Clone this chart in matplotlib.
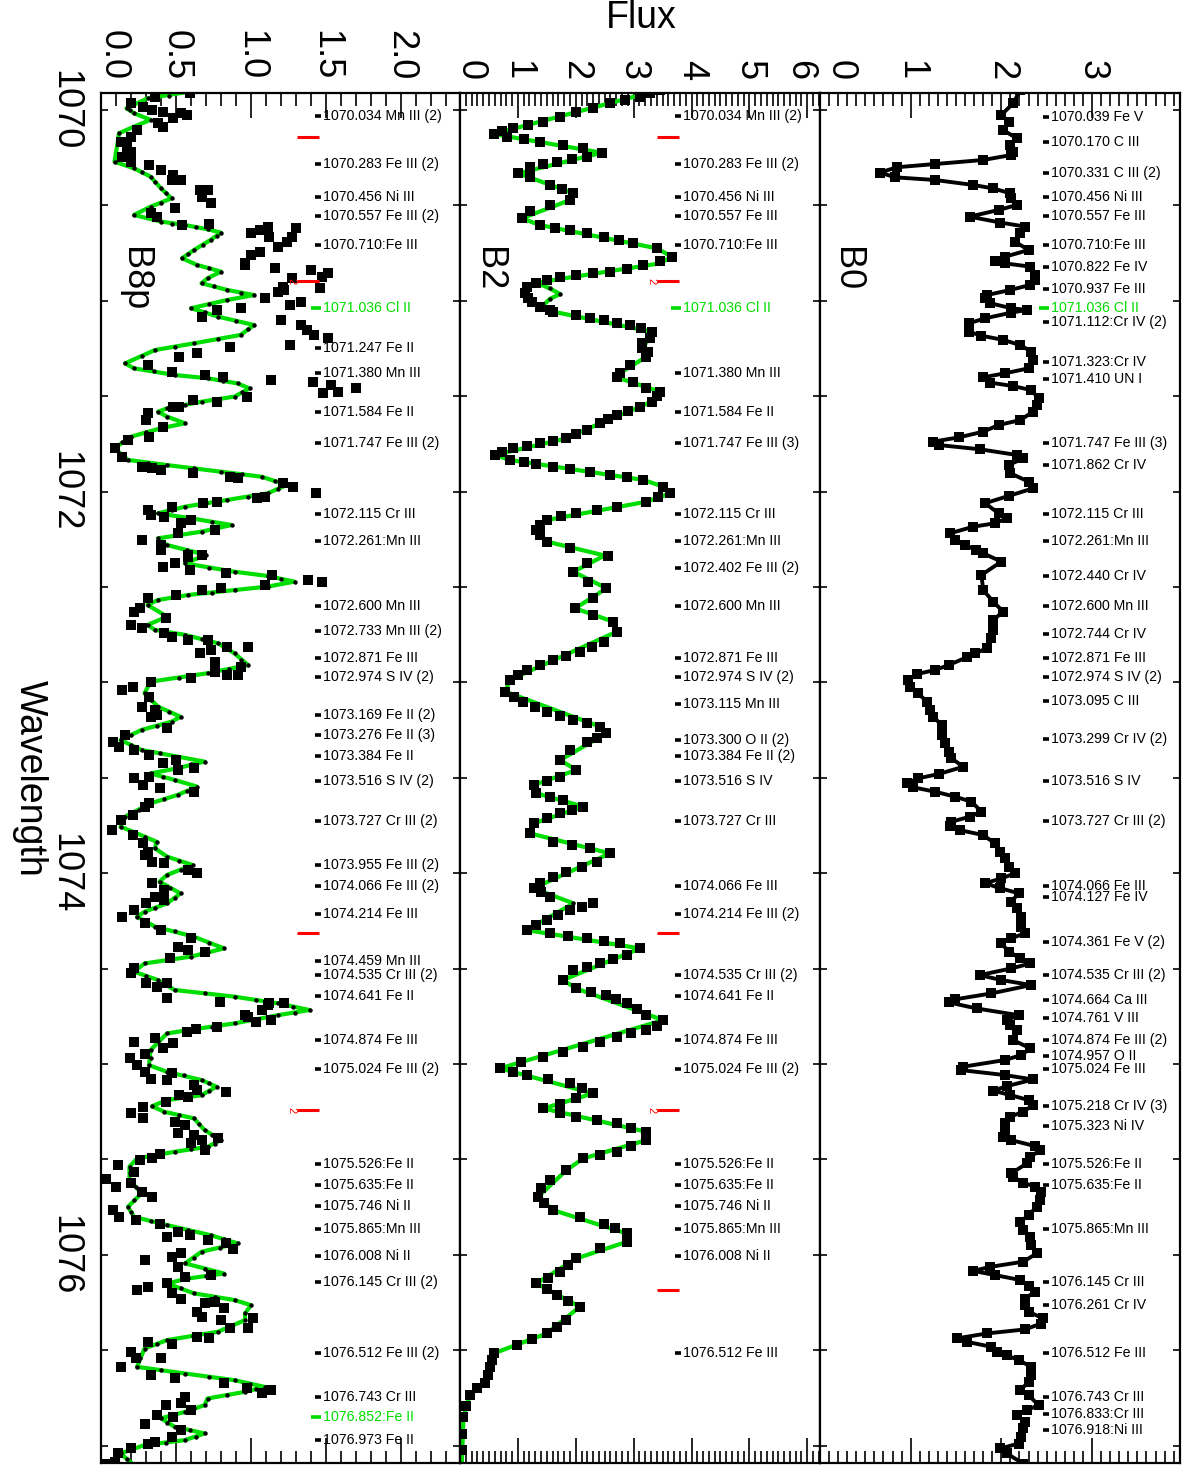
import numpy as np
import matplotlib
matplotlib.use('Agg')
import matplotlib.pyplot as plt
from matplotlib.transforms import blended_transform_factory as btf, ScaledTranslation
from matplotlib.ticker import MultipleLocator

plt.rcParams['font.family'] = ['Liberation Sans', 'DejaVu Sans']

# ---------------- B8p : model (green line with dots) ----------------
b8_model_wl = [1069.904, 1069.939, 1069.991, 1070.017, 1070.052, 1070.087, 1070.122, 1070.175, 1070.271, 1070.306,
               1070.349, 1070.411, 1070.463, 1070.507, 1070.550, 1070.585, 1070.603, 1070.625, 1070.643, 1070.681,
               1070.734, 1070.777, 1070.812, 1070.847, 1070.882, 1070.908, 1070.943, 1070.970, 1070.996, 1071.039,
               1071.083, 1071.127, 1071.179, 1071.223, 1071.258, 1071.328, 1071.354, 1071.389, 1071.406, 1071.433,
               1071.459, 1071.502, 1071.529, 1071.564, 1071.581, 1071.607, 1071.642, 1071.668, 1071.712, 1071.773,
               1071.834, 1071.861, 1071.896, 1071.922, 1071.965, 1072.009, 1072.044, 1072.079, 1072.114, 1072.140,
               1072.175, 1072.210, 1072.245, 1072.280, 1072.332, 1072.376, 1072.420, 1072.442, 1072.472, 1072.498,
               1072.516, 1072.542, 1072.568, 1072.594, 1072.655, 1072.699, 1072.725, 1072.751, 1072.795, 1072.848,
               1072.909, 1072.952, 1072.996, 1073.057, 1073.127, 1073.180, 1073.206, 1073.249, 1073.302, 1073.354,
               1073.389, 1073.415, 1073.450, 1073.477, 1073.511, 1073.546, 1073.590, 1073.634, 1073.704, 1073.756,
               1073.808, 1073.835, 1073.870, 1073.913, 1073.957, 1074.009, 1074.044, 1074.106, 1074.158, 1074.202,
               1074.228, 1074.280, 1074.333, 1074.394, 1074.437, 1074.473, 1074.516, 1074.560, 1074.612, 1074.647,
               1074.682, 1074.717, 1074.744, 1074.787, 1074.822, 1074.840, 1074.927, 1075.006, 1075.041, 1075.084,
               1075.119, 1075.163, 1075.189, 1075.221, 1075.250, 1075.285, 1075.346, 1075.399, 1075.434, 1075.460,
               1075.495, 1075.538, 1075.608, 1075.678, 1075.748, 1075.801, 1075.844, 1075.897, 1075.940, 1075.984,
               1076.045, 1076.098, 1076.124, 1076.150, 1076.202, 1076.237, 1076.264, 1076.307, 1076.342, 1076.403,
               1076.447, 1076.491, 1076.587, 1076.622, 1076.657, 1076.692, 1076.718, 1076.753, 1076.788, 1076.823,
               1076.857, 1076.901, 1076.936, 1076.971, 1076.997, 1077.041, 1077.102]
b8_model_fx = [0.59, 0.31, 0.17, 0.22, 0.33, 0.22, 0.12, 0.11, 0.09, 0.22,
               0.33, 0.40, 0.47, 0.33, 0.22, 0.40, 0.56, 0.71, 0.80, 0.73,
               0.62, 0.54, 0.64, 0.80, 0.71, 0.67, 0.84, 1.02, 0.84, 0.60,
               0.78, 1.02, 0.93, 0.62, 0.36, 0.16, 0.22, 0.49, 0.71, 0.91,
               0.99, 0.89, 0.67, 0.44, 0.38, 0.44, 0.56, 0.40, 0.20, 0.09,
               0.18, 0.44, 0.80, 1.07, 1.24, 1.11, 0.84, 0.56, 0.38, 0.60,
               0.87, 0.67, 0.38, 0.44, 0.70, 0.56, 0.89, 1.11, 1.29, 1.11,
               0.89, 0.58, 0.38, 0.31, 0.44, 0.31, 0.36, 0.56, 0.78, 0.89,
               0.98, 0.71, 0.33, 0.29, 0.38, 0.53, 0.47, 0.27, 0.13, 0.27,
               0.51, 0.69, 0.51, 0.33, 0.49, 0.64, 0.51, 0.33, 0.16, 0.13,
               0.29, 0.37, 0.36, 0.44, 0.61, 0.44, 0.39, 0.53, 0.44, 0.29,
               0.24, 0.36, 0.62, 0.82, 0.60, 0.29, 0.22, 0.38, 0.49, 0.89,
               1.18, 1.39, 1.18, 0.89, 0.58, 0.44, 0.33, 0.32, 0.44, 0.67,
               0.77, 0.67, 0.44, 0.34, 0.42, 0.62, 0.69, 0.80, 0.71, 0.49,
               0.24, 0.19, 0.19, 0.27, 0.18, 0.22, 0.44, 0.73, 0.91, 0.67,
               0.56, 0.82, 0.58, 0.44, 0.62, 0.89, 1.00, 0.96, 0.96, 0.78,
               0.44, 0.29, 0.24, 0.56, 0.89, 1.09, 0.96, 0.71, 0.69, 0.56,
               0.40, 0.49, 0.69, 0.56, 0.29, 0.13, 0.22]

# further model sample points read along the longer green segments (black dots)
b8_dots_wl = [1069.925, 1070.000, 1070.325, 1070.380, 1070.437, 1070.485, 1070.595, 1070.614, 1070.660, 1070.708,
              1070.757, 1070.830, 1070.925, 1070.957, 1071.018, 1071.060, 1071.105, 1071.150, 1071.200, 1071.240,
              1071.290, 1071.370, 1071.420, 1071.480, 1071.515, 1071.546, 1071.690, 1071.740, 1071.805, 1071.848,
              1071.878, 1071.910, 1071.943, 1071.987, 1072.027, 1072.061, 1072.096, 1072.157, 1072.192, 1072.228,
              1072.305, 1072.398, 1072.457, 1072.530, 1072.555, 1072.773, 1072.820, 1072.880, 1072.930, 1072.975,
              1073.090, 1073.155, 1073.228, 1073.275, 1073.330, 1073.372, 1073.430, 1073.494, 1073.568, 1073.612,
              1073.670, 1073.782, 1073.935, 1073.985, 1074.075, 1074.130, 1074.180, 1074.255, 1074.305, 1074.365,
              1074.415, 1074.455, 1074.538, 1074.586, 1074.630, 1074.665, 1074.700, 1074.730, 1074.765, 1074.805,
              1074.880, 1074.970, 1075.060, 1075.100, 1075.141, 1075.176, 1075.268, 1075.315, 1075.372, 1075.417,
              1075.447, 1075.478, 1075.573, 1075.643, 1075.713, 1075.775, 1075.822, 1075.870, 1075.918, 1075.962,
              1076.015, 1076.072, 1076.111, 1076.176, 1076.220, 1076.372, 1076.425, 1076.469, 1076.540, 1076.605,
              1076.640, 1076.675, 1076.705, 1076.735, 1076.805, 1076.840, 1076.879, 1076.918, 1076.954, 1076.984,
              1077.019, 1077.070]
b8_dots_fx = [0.45, 0.19, 0.27, 0.36, 0.43, 0.40, 0.47, 0.63, 0.77, 0.68,
              0.58, 0.72, 0.75, 0.93, 0.72, 0.69, 0.90, 0.98, 0.78, 0.49,
              0.27, 0.35, 0.81, 0.94, 0.78, 0.56, 0.30, 0.14, 0.13, 0.31,
              0.62, 0.94, 1.16, 1.18, 0.98, 0.70, 0.47, 0.74, 0.77, 0.52,
              0.57, 0.72, 1.20, 0.74, 0.48, 0.67, 0.83, 0.93, 0.85, 0.52,
              0.33, 0.45, 0.37, 0.20, 0.20, 0.39, 0.60, 0.41, 0.57, 0.42,
              0.25, 0.21, 0.52, 0.53, 0.46, 0.49, 0.36, 0.30, 0.49, 0.72,
              0.71, 0.45, 0.30, 0.43, 0.69, 1.03, 1.28, 1.29, 1.04, 0.74,
              0.38, 0.33, 0.55, 0.72, 0.72, 0.56, 0.52, 0.65, 0.74, 0.76,
              0.60, 0.37, 0.19, 0.23, 0.22, 0.20, 0.33, 0.58, 0.82, 0.79,
              0.62, 0.69, 0.70, 0.53, 0.76, 0.87, 0.61, 0.37, 0.26, 0.40,
              0.72, 0.99, 1.03, 0.84, 0.62, 0.48, 0.44, 0.59, 0.63, 0.43,
              0.21, 0.17]

# ---------------- B8p : observed (squares) ----------------
b8_obs_wl = [1069.913, 1069.930, 1069.965, 1069.983, 1070.000, 1070.009, 1070.044, 1070.026, 1070.017, 1070.070,
             1070.087, 1070.105, 1070.140, 1070.166, 1070.192, 1070.218, 1070.245, 1070.271, 1070.288, 1070.314,
             1070.341, 1070.367, 1070.367, 1070.419, 1070.419, 1070.454, 1070.489, 1070.515, 1070.542, 1070.559,
             1070.603, 1070.597, 1070.646, 1070.629, 1070.611, 1070.664, 1070.620, 1070.664, 1070.690, 1070.716,
             1070.742, 1070.760, 1070.804, 1070.812, 1070.830, 1070.839, 1070.856, 1070.874, 1070.882, 1070.935,
             1070.926, 1070.952, 1070.943, 1070.987, 1071.005, 1071.022, 1071.039, 1071.048, 1071.083, 1071.101,
             1071.127, 1071.153, 1071.179, 1071.197, 1071.232, 1071.240, 1071.275, 1071.293, 1071.336, 1071.371,
             1071.389, 1071.398, 1071.415, 1071.424, 1071.441, 1071.485, 1071.476, 1071.456, 1071.502, 1071.529,
             1071.520, 1071.555, 1071.555, 1071.590, 1071.625, 1071.660, 1071.712, 1071.730, 1071.773, 1071.817,
             1071.869, 1071.878, 1071.887, 1071.904, 1071.922, 1071.930, 1071.956, 1071.974, 1072.009, 1072.027,
             1072.035, 1072.053, 1072.061, 1072.079, 1072.096, 1072.123, 1072.131, 1072.166, 1072.149, 1072.201,
             1072.219, 1072.254, 1072.280, 1072.306, 1072.332, 1072.332,
             1072.393, 1072.376, 1072.411, 1072.341, 1072.428, 1072.437, 1072.463, 1072.472, 1072.489, 1072.507,
             1072.516, 1072.542, 1072.559, 1072.629, 1072.612, 1072.664, 1072.699, 1072.717, 1072.743, 1072.760,
             1072.778, 1072.778, 1072.848, 1072.830, 1072.891, 1072.813, 1072.813, 1072.918, 1072.961, 1072.961,
             1072.944, 1072.979, 1072.996, 1073.040, 1073.022, 1073.075, 1073.127, 1073.145, 1073.171, 1073.241,
             1073.180, 1073.276, 1073.311, 1073.337, 1073.354, 1073.381, 1073.424, 1073.407, 1073.459, 1073.450,
             1073.503, 1073.494, 1073.538, 1073.555, 1073.573, 1073.634, 1073.651, 1073.695, 1073.721, 1073.774,
             1073.800, 1073.843, 1073.887, 1073.905, 1073.940, 1073.948, 1073.983, 1074.001, 1074.053, 1074.088,
             1074.123, 1074.141, 1074.158, 1074.228, 1074.193, 1074.263, 1074.298, 1074.385, 1074.341, 1074.402,
             1074.411, 1074.446, 1074.525, 1074.499, 1074.577, 1074.595, 1074.577, 1074.656, 1074.673, 1074.743,
             1074.717, 1074.682,
             1074.691, 1074.752, 1074.779, 1074.770, 1074.682, 1074.805, 1074.814, 1074.831, 1074.883, 1074.866,
             1074.892, 1074.918, 1074.945, 1074.971, 1075.006, 1075.041, 1075.076, 1075.084, 1075.049, 1075.110,
             1075.137, 1075.172, 1075.163, 1075.145, 1075.198, 1075.259, 1075.224, 1075.285, 1075.303, 1075.320,
             1075.364, 1075.373, 1075.399, 1075.416, 1075.451, 1075.390, 1075.469, 1075.495, 1075.503, 1075.530,
             1075.600, 1075.643, 1075.565, 1075.626, 1075.670, 1075.696, 1075.766, 1075.801, 1075.818, 1075.836,
             1075.905, 1075.879, 1075.897, 1075.923, 1075.940, 1075.967, 1076.028, 1076.010, 1075.993, 1076.063,
             1076.115, 1076.106, 1076.185, 1076.167, 1076.150, 1076.202, 1076.229, 1076.298, 1076.325, 1076.255,
             1076.246, 1076.281, 1076.342, 1076.386, 1076.386, 1076.333, 1076.429, 1076.438, 1076.465, 1076.456,
             1076.508, 1076.587, 1076.543, 1076.543, 1076.630, 1076.648, 1076.674, 1076.700, 1076.726, 1076.709,
             1076.744, 1076.788, 1076.779, 1076.814, 1076.849, 1076.840, 1076.884, 1076.919, 1076.954, 1076.980,
             1076.989, 1077.015, 1077.041, 1077.085, 1077.094]
b8_obs_fx = [0.59, 0.36, 0.20, 0.28, 0.34, 0.41, 0.48, 0.57, 0.53, 0.38,
             0.41, 0.24, 0.20, 0.13, 0.17, 0.20, 0.14, 0.20, 0.32, 0.40,
             0.48, 0.47, 0.53, 0.66, 0.71, 0.67, 0.73, 0.49, 0.33, 0.37,
             0.54, 0.72, 1.00, 1.06, 1.11, 1.12, 1.30, 1.27, 1.24, 1.18,
             1.06, 1.00, 0.96, 0.96, 1.16, 1.40, 1.51, 1.47, 1.27, 1.46,
             1.21, 1.18, 1.22, 1.09, 1.33, 1.26, 0.93, 0.77, 0.67, 1.20,
             1.33, 1.37, 1.42, 1.51, 1.26, 0.86, 0.64, 0.52, 0.31, 0.47,
             0.69, 0.81, 1.13, 1.41, 1.53, 1.48, 1.58, 1.70, 0.97, 0.77,
             0.61, 0.52, 0.48, 0.31, 0.30, 0.41, 0.32, 0.18, 0.09, 0.14,
             0.27, 0.34, 0.40, 0.61, 0.86, 0.91, 1.21, 1.28, 1.43, 1.09,
             1.04, 0.77, 0.68, 0.47, 0.31, 0.33, 0.42, 0.53, 0.60, 0.76,
             0.51, 0.27, 0.40, 0.40, 0.58, 0.67,
             0.41, 0.49, 0.59, 0.58, 0.83, 1.14, 1.38, 1.47, 1.09, 0.80,
             0.67, 0.50, 0.31, 0.22, 0.26, 0.43, 0.20, 0.27, 0.42, 0.47,
             0.58, 0.71, 0.66, 0.73, 0.76, 0.84, 0.98, 0.93, 0.84, 0.91,
             0.76, 0.60, 0.33, 0.14, 0.21, 0.32, 0.27, 0.36, 0.37, 0.44,
             0.33, 0.16, 0.08, 0.12, 0.22, 0.32, 0.41, 0.50, 0.51, 0.62,
             0.22, 0.32, 0.28, 0.39, 0.62, 0.32, 0.29, 0.21, 0.13, 0.07,
             0.21, 0.28, 0.31, 0.29, 0.34, 0.42, 0.58, 0.64, 0.34, 0.42,
             0.36, 0.42, 0.30, 0.14, 0.22, 0.29, 0.40, 0.51, 0.60, 0.58,
             0.69, 0.46, 0.20, 0.22, 0.30, 0.37, 0.44, 0.44, 0.79, 0.96,
             1.07, 1.12,
             1.11, 0.98, 1.03, 1.13, 1.22, 0.77, 0.63, 0.57, 0.22, 0.36,
             0.48, 0.41, 0.29, 0.19, 0.24, 0.29, 0.33, 0.44, 0.47, 0.62,
             0.64, 0.58, 0.52, 0.83, 0.43, 0.20, 0.28, 0.28, 0.49, 0.56,
             0.51, 0.62, 0.67, 0.60, 0.69, 0.78, 0.39, 0.34, 0.26, 0.11,
             0.03, 0.10, 0.22, 0.20, 0.27, 0.34, 0.08, 0.12, 0.23, 0.39,
             0.44, 0.51, 0.59, 0.71, 0.83, 0.88, 0.29, 0.47, 0.53, 0.51,
             0.56, 0.73, 0.24, 0.31, 0.44, 0.47, 0.53, 0.64, 0.67, 0.69,
             0.76, 0.82, 0.80, 0.86, 0.98, 1.01, 0.64, 0.72, 0.47, 0.31,
             0.20, 0.13, 0.23, 0.40, 0.33, 0.49, 0.82, 0.97, 1.07, 1.13,
             0.56, 0.43, 0.53, 0.60, 0.48, 0.37, 0.29, 0.53, 0.47, 0.36,
             0.31, 0.20, 0.11, 0.09, 0.04]

# ---------------- B2 : observed (squares) ----------------
b2_obs_wl = [1069.895, 1069.913, 1069.930, 1069.948, 1069.965, 1069.987, 1070.009, 1070.035, 1070.061, 1070.078,
             1070.096, 1070.112, 1070.126, 1070.140, 1070.153, 1070.166, 1070.183, 1070.201, 1070.224, 1070.245,
             1070.258, 1070.271, 1070.284, 1070.297, 1070.332, 1070.353, 1070.393, 1070.415, 1070.437, 1070.472,
             1070.498, 1070.528, 1070.568, 1070.603, 1070.616, 1070.629, 1070.646, 1070.664, 1070.681, 1070.699,
             1070.725, 1070.769, 1070.790, 1070.812, 1070.835, 1070.847, 1070.856, 1070.866, 1070.877, 1070.891,
             1070.905, 1070.930, 1070.961, 1070.987, 1071.005, 1071.030, 1071.050, 1071.057, 1071.074, 1071.088,
             1071.101, 1071.114, 1071.127, 1071.145, 1071.162, 1071.197, 1071.220, 1071.249, 1071.270, 1071.293,
             1071.336, 1071.380, 1071.401, 1071.424, 1071.459, 1071.476, 1071.500, 1071.529, 1071.555, 1071.575,
             1071.598, 1071.620, 1071.642, 1071.677, 1071.700, 1071.721, 1071.735, 1071.747, 1071.760, 1071.773,
             1071.790, 1071.808, 1071.834, 1071.845, 1071.855, 1071.869, 1071.883, 1071.898, 1071.913, 1071.926,
             1071.939, 1071.974, 1072.009, 1072.030, 1072.053, 1072.079, 1072.096, 1072.114, 1072.130, 1072.149,
             1072.175, 1072.201, 1072.230, 1072.262, 1072.297, 1072.335, 1072.376, 1072.420, 1072.472, 1072.507,
             1072.559, 1072.612, 1072.647, 1072.682, 1072.734, 1072.786, 1072.812, 1072.839, 1072.861, 1072.883,
             1072.910, 1072.935, 1072.961, 1072.987, 1073.048, 1073.075, 1073.101, 1073.127, 1073.153, 1073.175,
             1073.197, 1073.215, 1073.232, 1073.267, 1073.290, 1073.311, 1073.354, 1073.407, 1073.459, 1073.494,
             1073.516, 1073.538, 1073.581, 1073.600, 1073.616, 1073.651, 1073.670, 1073.686, 1073.712, 1073.739,
             1073.791, 1073.835, 1073.852, 1073.870, 1073.896, 1073.939, 1073.965, 1073.992, 1074.020, 1074.053,
             1074.079, 1074.100, 1074.123, 1074.155, 1074.175, 1074.193, 1074.220, 1074.245, 1074.270, 1074.298,
             1074.315, 1074.328, 1074.341, 1074.354, 1074.367, 1074.394, 1074.429, 1074.451, 1074.473, 1074.490,
             1074.507, 1074.560, 1074.604, 1074.620, 1074.639, 1074.660, 1074.682, 1074.713, 1074.743, 1074.770,
             1074.800, 1074.822, 1074.840, 1074.857, 1074.883, 1074.910, 1074.936, 1074.962, 1074.992, 1075.023,
             1075.040, 1075.058, 1075.080, 1075.102, 1075.128, 1075.154, 1075.180, 1075.207, 1075.233, 1075.255,
             1075.276, 1075.293, 1075.311, 1075.333, 1075.355, 1075.399, 1075.430, 1075.460, 1075.478, 1075.495,
             1075.556, 1075.608, 1075.650, 1075.696, 1075.730, 1075.766, 1075.801, 1075.836, 1075.862, 1075.888,
             1075.932, 1075.966, 1076.019, 1076.055, 1076.089, 1076.120, 1076.150, 1076.180, 1076.211, 1076.240,
             1076.272, 1076.342, 1076.380, 1076.412, 1076.440, 1076.473, 1076.517, 1076.550, 1076.587, 1076.630,
             1076.674, 1076.700, 1076.735, 1076.790, 1076.849, 1076.940, 1077.024, 1077.110]
b2_obs_fx = [3.45, 3.28, 3.11, 2.85, 2.59, 2.30, 2.01, 1.72, 1.44, 1.18,
             0.92, 0.72, 0.58, 0.81, 1.10, 1.38, 1.78, 2.13, 2.45, 2.19,
             1.93, 1.67, 1.44, 1.21, 1.01, 1.21, 1.55, 1.76, 1.96, 1.90,
             1.55, 1.21, 1.07, 1.38, 1.64, 1.90, 2.19, 2.48, 2.74, 2.99,
             3.40, 3.66, 3.45, 3.17, 2.88, 2.59, 2.30, 2.01, 1.73, 1.50,
             1.32, 1.15, 1.12, 1.18, 1.24, 1.38, 1.55, 1.61, 2.01, 2.25,
             2.48, 2.71, 2.94, 3.13, 3.31, 3.28, 3.15, 3.14, 3.25, 3.22,
             2.94, 2.76, 2.71, 2.99, 3.22, 3.45, 3.40, 3.31, 3.11, 2.90,
             2.71, 2.55, 2.42, 2.19, 2.00, 1.84, 1.60, 1.38, 1.15, 0.92,
             0.72, 0.60, 0.86, 1.10, 1.32, 1.60, 1.90, 2.25, 2.59, 2.88,
             3.17, 3.51, 3.63, 3.42, 3.22, 2.71, 2.36, 2.01, 1.75, 1.50,
             1.38, 1.32, 1.38, 1.50, 1.90, 2.55, 2.19, 1.96, 2.22, 2.53,
             2.30, 1.99, 2.30, 2.65, 2.71, 2.48, 2.28, 2.07, 1.84, 1.61,
             1.38, 1.15, 1.00, 0.86, 0.78, 0.93, 1.09, 1.30, 1.50, 1.73,
             1.96, 2.19, 2.42, 2.53, 2.36, 2.19, 1.90, 1.73, 2.01, 1.73,
             1.50, 1.27, 1.32, 1.55, 1.78, 2.13, 1.93, 1.73, 1.50, 1.27,
             1.21, 1.61, 1.93, 2.25, 2.59, 2.36, 2.10, 1.84, 1.60, 1.38,
             1.27, 1.40, 1.55, 2.30, 2.10, 1.90, 1.70, 1.50, 1.32, 1.15,
             1.55, 1.87, 2.19, 2.48, 2.76, 3.11, 2.88, 2.65, 2.42, 2.19,
             1.96, 1.78, 2.01, 2.27, 2.53, 2.70, 2.88, 3.05, 3.22, 3.51,
             3.40, 3.22, 2.96, 2.71, 2.42, 2.13, 1.78, 1.44, 1.06, 0.69,
             0.92, 1.15, 1.52, 1.90, 2.10, 2.30, 2.01, 1.73, 1.44, 1.72,
             2.01, 2.36, 2.71, 2.96, 3.22, 3.22, 2.96, 2.71, 2.42, 2.13,
             1.84, 1.55, 1.40, 1.35, 1.45, 1.61, 2.07, 2.48, 2.68, 2.88,
             2.88, 2.42, 2.01, 1.87, 1.73, 1.52, 1.32, 1.50, 1.67, 1.87,
             2.07, 1.84, 1.67, 1.50, 1.24, 0.98, 0.58, 0.55, 0.52, 0.48,
             0.43, 0.30, 0.17, 0.10, 0.06, 0.04, 0.03, 0.03]

# ---------------- B2 : model (green line with dots) ----------------
b2_model_wl = [1069.895, 1070.126, 1070.224, 1070.332, 1070.437, 1070.472, 1070.568, 1070.603, 1070.725, 1070.769,
               1070.804, 1070.905, 1070.935, 1070.965, 1070.990, 1071.030, 1071.057, 1071.162, 1071.197, 1071.249,
               1071.293, 1071.380, 1071.401, 1071.476, 1071.529, 1071.555, 1071.642, 1071.721, 1071.808, 1071.834,
               1071.939, 1071.974, 1072.009, 1072.053, 1072.149, 1072.201, 1072.262, 1072.335, 1072.420, 1072.507,
               1072.612, 1072.682, 1072.734, 1072.987, 1073.048, 1073.232, 1073.267, 1073.407, 1073.459, 1073.538,
               1073.581, 1073.651, 1073.739, 1073.791, 1073.896, 1074.079, 1074.158, 1074.298, 1074.394, 1074.560,
               1074.604, 1074.770, 1075.023, 1075.154, 1075.233, 1075.355, 1075.399, 1075.495, 1075.556, 1075.696,
               1075.766, 1075.888, 1075.932, 1076.019, 1076.150, 1076.272, 1076.412, 1076.517, 1076.587, 1076.674,
               1076.735, 1076.849, 1077.110]
b2_model_fx = [3.45, 0.58, 2.45, 1.01, 1.96, 1.90, 1.07, 1.38, 3.40, 3.66,
               3.45, 1.32, 1.55, 1.73, 1.55, 1.42, 1.61, 3.31, 3.28, 3.14,
               3.22, 2.76, 2.71, 3.45, 3.31, 3.11, 2.42, 1.84, 0.60, 0.86,
               3.17, 3.51, 3.63, 3.22, 1.50, 1.32, 1.50, 2.50, 1.96, 2.53,
               1.99, 2.65, 2.71, 0.86, 0.78, 2.42, 2.53, 1.73, 2.01, 1.27,
               1.32, 2.13, 1.27, 1.21, 2.59, 1.27, 1.96, 1.15, 3.11, 1.78,
               2.01, 3.51, 0.69, 2.30, 1.44, 3.22, 3.22, 2.13, 1.84, 1.35,
               1.61, 2.88, 2.88, 2.01, 1.32, 2.07, 1.50, 0.58, 0.52, 0.43,
               0.17, 0.06, 0.03]

# ---------------- B0 : observed (line + squares) ----------------
b0_wl = [1069.895, 1069.965, 1070.026, 1070.061, 1070.105, 1070.149, 1070.183, 1070.218, 1070.236, 1070.262,
         1070.283, 1070.300, 1070.328, 1070.353, 1070.367, 1070.393, 1070.411, 1070.437, 1070.463, 1070.498,
         1070.524, 1070.559, 1070.590, 1070.611, 1070.646, 1070.690, 1070.734, 1070.769, 1070.790, 1070.804,
         1070.821, 1070.865, 1070.891, 1070.917, 1070.943, 1070.970, 1070.987, 1071.013, 1071.039, 1071.048,
         1071.062, 1071.092, 1071.118, 1071.162, 1071.183, 1071.205, 1071.232, 1071.267, 1071.310, 1071.354,
         1071.380, 1071.401, 1071.429, 1071.447, 1071.468, 1071.511, 1071.546, 1071.581, 1071.625, 1071.651,
         1071.686, 1071.716, 1071.738, 1071.756, 1071.778, 1071.808, 1071.826, 1071.861, 1071.904, 1071.948,
         1071.983, 1072.023, 1072.061, 1072.114, 1072.140, 1072.166, 1072.184, 1072.219, 1072.254, 1072.280,
         1072.306, 1072.323, 1072.367, 1072.437, 1072.516, 1072.577, 1072.629, 1072.673, 1072.725, 1072.769,
         1072.821, 1072.848, 1072.868, 1072.909, 1072.935, 1072.956, 1072.987, 1073.022, 1073.057, 1073.101,
         1073.145, 1073.180, 1073.223, 1073.276, 1073.319, 1073.363, 1073.398, 1073.442, 1073.480, 1073.503,
         1073.529, 1073.550, 1073.573, 1073.599, 1073.625, 1073.677, 1073.704, 1073.730, 1073.753, 1073.774,
         1073.800, 1073.844, 1073.887, 1073.922, 1073.966, 1074.001, 1074.027, 1074.053, 1074.079, 1074.105,
         1074.149, 1074.184, 1074.228, 1074.280, 1074.315, 1074.341, 1074.367, 1074.411, 1074.446, 1074.473,
         1074.499, 1074.534, 1074.560, 1074.586, 1074.630, 1074.661, 1074.677, 1074.709, 1074.744, 1074.770,
         1074.796, 1074.822, 1074.875, 1074.918, 1074.953, 1074.979, 1075.014, 1075.032, 1075.058, 1075.081,
         1075.116, 1075.140, 1075.163, 1075.189, 1075.215, 1075.250, 1075.276, 1075.311, 1075.346, 1075.381,
         1075.399, 1075.430, 1075.451, 1075.486, 1075.521, 1075.573, 1075.591, 1075.622, 1075.643, 1075.670,
         1075.713, 1075.748, 1075.792, 1075.827, 1075.870, 1075.905, 1075.949, 1075.993, 1076.036, 1076.063,
         1076.084, 1076.106, 1076.132, 1076.164, 1076.194, 1076.229, 1076.264, 1076.298, 1076.333, 1076.360,
         1076.391, 1076.412, 1076.438, 1076.456, 1076.482, 1076.508, 1076.526, 1076.552, 1076.587, 1076.630,
         1076.665, 1076.709, 1076.735, 1076.788, 1076.814, 1076.840, 1076.875, 1076.910, 1076.954, 1076.989,
         1077.015, 1077.041, 1077.094]
b0_fx = [2.21, 2.13, 2.00, 2.08, 2.02, 2.17, 2.10, 2.13, 2.11, 1.80,
         1.27, 0.85, 0.66, 0.83, 1.27, 1.69, 1.91, 2.10, 2.11, 2.17,
         1.97, 1.65, 1.99, 2.26, 2.21, 2.15, 2.30, 2.04, 1.93, 2.04,
         2.32, 2.37, 2.37, 2.32, 2.10, 1.84, 1.82, 1.88, 2.11, 2.28,
         2.11, 1.82, 1.64, 1.64, 1.78, 2.02, 2.21, 2.33, 2.35, 2.30,
         2.04, 1.80, 1.88, 2.13, 2.33, 2.41, 2.39, 2.35, 2.21, 1.97,
         1.80, 1.53, 1.25, 1.31, 1.76, 2.17, 2.24, 2.08, 2.10, 2.30,
         2.35, 2.08, 1.82, 1.97, 2.06, 1.93, 1.69, 1.43, 1.49, 1.60,
         1.72, 1.80, 2.00, 1.78, 1.80, 1.91, 2.02, 1.91, 1.91, 1.89,
         1.84, 1.71, 1.62, 1.42, 1.27, 1.07, 0.97, 0.99, 1.08, 1.18,
         1.21, 1.25, 1.34, 1.34, 1.38, 1.42, 1.45, 1.58, 1.31, 1.08,
         0.96, 1.03, 1.27, 1.49, 1.67, 1.78, 1.65, 1.45, 1.43, 1.54,
         1.80, 1.93, 1.99, 2.04, 2.08, 2.15, 2.00, 1.82, 1.99, 2.19,
         2.11, 2.17, 2.22, 2.22, 2.26, 2.11, 2.00, 2.08, 2.21, 2.32,
         2.11, 1.76, 2.00, 2.33, 1.89, 1.49, 1.42, 1.73, 2.19, 2.06,
         2.10, 2.17, 2.13, 2.32, 2.22, 2.04, 1.58, 1.56, 2.04, 2.35,
         2.06, 1.91, 2.10, 2.30, 2.35, 2.24, 2.10, 2.04, 2.04, 2.02,
         2.11, 2.37, 2.43, 2.32, 2.28, 2.11, 2.13, 2.24, 2.37, 2.44,
         2.43, 2.39, 2.30, 2.21, 2.24, 2.32, 2.33, 2.39, 2.24, 1.88,
         1.69, 1.93, 2.21, 2.30, 2.37, 2.26, 2.26, 2.30, 2.46, 2.44,
         2.26, 1.84, 1.51, 1.62, 1.89, 1.95, 2.06, 2.19, 2.33, 2.33,
         2.30, 2.21, 2.30, 2.41, 2.28, 2.17, 2.26, 2.24, 2.22, 2.19,
         1.99, 2.06, 2.24]

# ---------------- line identification labels ----------------
labels_b8 = ["1070.034 Mn III (2)", "1070.283 Fe III (2)", "1070.456 Ni III", "1070.557 Fe III (2)",
             "1070.710:Fe III", "1071.036 Cl II", "1071.247 Fe II", "1071.380 Mn III", "1071.584 Fe II",
             "1071.747 Fe III (2)", "1072.115 Cr III", "1072.261:Mn III", "1072.600 Mn III",
             "1072.733 Mn III (2)", "1072.871 Fe III", "1072.974 S IV (2)", "1073.169 Fe II (2)",
             "1073.276 Fe II (3)", "1073.384 Fe II", "1073.516 S IV (2)", "1073.727 Cr III (2)",
             "1073.955 Fe III (2)", "1074.066 Fe III (2)", "1074.214 Fe III", "1074.459 Mn III",
             "1074.535 Cr III (2)", "1074.641 Fe II", "1074.874 Fe III", "1075.024 Fe III (2)",
             "1075.526:Fe II", "1075.635:Fe II", "1075.746 Ni II", "1075.865:Mn III", "1076.008 Ni II",
             "1076.145 Cr III (2)", "1076.512 Fe III (2)", "1076.743 Cr III", "1076.852:Fe II", "1076.973 Fe II"]
labels_b2 = ["1070.034 Mn III (2)", "1070.283 Fe III (2)", "1070.456 Ni III", "1070.557 Fe III",
             "1070.710:Fe III", "1071.036 Cl II", "1071.380 Mn III", "1071.584 Fe II", "1071.747 Fe III (3)",
             "1072.115 Cr III", "1072.261:Mn III", "1072.402 Fe III (2)", "1072.600 Mn III", "1072.871 Fe III",
             "1072.974 S IV (2)", "1073.115 Mn III", "1073.300 O II (2)", "1073.384 Fe II (2)", "1073.516 S IV",
             "1073.727 Cr III", "1074.066 Fe III", "1074.214 Fe III (2)", "1074.535 Cr III (2)",
             "1074.641 Fe II", "1074.874 Fe III", "1075.024 Fe III (2)", "1075.526:Fe II", "1075.635:Fe II",
             "1075.746 Ni II", "1075.865:Mn III", "1076.008 Ni II", "1076.512 Fe III"]
labels_b0 = ["1070.039 Fe V", "1070.170 C III", "1070.331 C III (2)", "1070.456 Ni III", "1070.557 Fe III",
             "1070.710:Fe III", "1070.822 Fe IV", "1070.937 Fe III", "1071.036 Cl II", "1071.112:Cr IV (2)",
             "1071.323:Cr IV", "1071.410 UN I", "1071.747 Fe III (3)", "1071.862 Cr IV", "1072.115 Cr III",
             "1072.261:Mn III", "1072.440 Cr IV", "1072.600 Mn III", "1072.744 Cr IV", "1072.871 Fe III",
             "1072.974 S IV (2)", "1073.095 C III", "1073.299 Cr IV (2)", "1073.516 S IV", "1073.727 Cr III (2)",
             "1074.066 Fe III", "1074.127 Fe IV", "1074.361 Fe V (2)", "1074.535 Cr III (2)", "1074.664 Ca III",
             "1074.761 V III", "1074.874 Fe III (2)", "1074.957 O II", "1075.024 Fe III", "1075.218 Cr IV (3)",
             "1075.323 Ni IV", "1075.526:Fe II", "1075.635:Fe II", "1075.865:Mn III", "1076.145 Cr III",
             "1076.261 Cr IV", "1076.512 Fe III", "1076.743 Cr III", "1076.833:Cr III", "1076.918:Ni III"]
green_labels = ["1071.036 Cl II", "1076.852:Fe II"]

# red markers (wavelength, small label)
red_b8 = [(1070.140, ""), (1070.898, "2"), (1074.312, ""), (1075.241, "2")]
red_b2 = [(1070.140, ""), (1070.898, "2"), (1074.312, ""), (1075.241, "2"), (1076.186, "")]

flux_ticks_b8 = [0.0, 0.5, 1.0, 1.5, 2.0]
flux_ticks_b2 = [0, 1, 2, 3, 4, 5, 6]
flux_ticks_b0 = [0, 1, 2, 3]
wave_ticks = [1070, 1072, 1074, 1076]

# ---------------- figure ----------------
W, H = 1182, 1465
fig = plt.figure(figsize=(W / 100, H / 100), dpi=100)
GREEN = '#00dd00'


def px_axes(x0, x1, y0, y1):
    return fig.add_axes([x0 / W, 1 - y1 / H, (x1 - x0) / W, (y1 - y0) / H])


ax1 = px_axes(101, 460, 93, 1463)
ax2 = px_axes(460, 820, 93, 1463)
ax3 = px_axes(820, 1180, 93, 1463)
WL_TOP, WL_BOT = 1069.911, 1077.091


def off(dx, dy):
    return ScaledTranslation(dx / 100, dy / 100, fig.dpi_scale_trans)


def style_axes(ax, xmax, major, tick_vals, fmt, shifts):
    ax.set_xlim(0, xmax)
    ax.set_ylim(WL_BOT, WL_TOP)
    ax.xaxis.set_major_locator(MultipleLocator(major))
    ax.xaxis.set_minor_locator(MultipleLocator(0.1))
    ax.yaxis.set_major_locator(MultipleLocator(0.5))
    ax.tick_params(axis='x', which='major', direction='in', top=True, bottom=True,
                   length=18, width=1.2, labelbottom=False, labeltop=False)
    ax.tick_params(axis='x', which='minor', direction='in', top=True, bottom=True,
                   length=9, width=1.2)
    ax.tick_params(axis='y', which='major', direction='in', left=True, right=True,
                   length=5, width=1.2, labelleft=False, labelright=False)
    for s in ax.spines.values():
        s.set_linewidth(1.6)
    tr = btf(ax.transData, ax.transAxes)
    for v, dx in zip(tick_vals, shifts):
        ax.text(v, 1.0, fmt(v), transform=tr + off(dx, 13), rotation=-90,
                ha='center', va='bottom', fontsize=26, clip_on=False)


style_axes(ax1, 2.393, 0.5, flux_ticks_b8, lambda v: '%.1f' % v, [12, 0, 0, 0, 0])
style_axes(ax2, 6.22, 1, flux_ticks_b2, lambda v: '%d' % v, [10, 0, 0, 0, 0, 0, -8])
style_axes(ax3, 3.97, 1, flux_ticks_b0, lambda v: '%d' % v, [20, 0, 0, 0])

# ---- B8p ----
ax1.plot(b8_model_fx, b8_model_wl, color=GREEN, lw=3, zorder=2)
ax1.scatter(b8_obs_fx, b8_obs_wl, marker='s', s=54, color='black', linewidths=0, zorder=3)
ax1.plot(b8_model_fx, b8_model_wl, 'o', color='black', ms=3.2, mew=0, zorder=4)
ax1.plot(b8_dots_fx, b8_dots_wl, 'o', color='black', ms=3.2, mew=0, zorder=4)

# ---- B2 ----
ax2.plot(b2_model_fx, b2_model_wl, color=GREEN, lw=3, zorder=2)
ax2.scatter(b2_obs_fx, b2_obs_wl, marker='s', s=58, color='black', linewidths=0, zorder=3)
ax2.plot(b2_model_fx, b2_model_wl, 'o', color='black', ms=3.2, mew=0, zorder=4)

# ---- B0 ----
ax3.plot(b0_fx, b0_wl, color='black', lw=2.8, marker='s', ms=6.8, mew=0, zorder=3)


# ---- line labels ----
def draw_labels(ax, labels, dash0, dash1, xtext):
    tr = btf(ax.transAxes, ax.transData)
    for lab in labels:
        wl = float(lab[:8])
        col = GREEN if lab in green_labels else 'black'
        d0 = dash0 - 0.011 if lab in green_labels else dash0
        ax.plot([d0, dash1], [wl, wl], transform=tr, color=col, lw=2.6,
                solid_capstyle='butt', clip_on=False, zorder=6)
        ax.text(xtext, wl, lab, transform=tr, fontsize=10.2, color=col,
                ha='left', va='center', zorder=6)


draw_labels(ax1, labels_b8, 0.596, 0.613, 0.619)
draw_labels(ax2, labels_b2, 0.597, 0.614, 0.620)
draw_labels(ax3, labels_b0, 0.619, 0.637, 0.642)


def draw_red(ax, marks):
    tr = btf(ax.transAxes, ax.transData)
    for wl, s in marks:
        ax.plot([0.546, 0.607], [wl, wl], transform=tr, color='red', lw=2.2,
                solid_capstyle='butt', zorder=6)
        if s:
            ax.text(0.545, wl, s, transform=tr, color='red', fontsize=8,
                    rotation=-90, ha='right', va='center', zorder=6)


draw_red(ax1, red_b8)
draw_red(ax2, red_b2)

# ---- panel names ----
for name, xc in [('B8p', 134), ('B2', 488), ('B0', 847)]:
    fig.text(xc / W, 1 - 247 / H, name, rotation=-90, ha='center', va='top', fontsize=26)

# ---- wavelength tick labels (left) ----
trl = btf(ax1.transAxes, ax1.transData) + off(-19, 0)
for v in wave_ticks:
    ax1.text(0, v, '%d' % v, transform=trl, rotation=-90, ha='right', va='center',
             fontsize=26, clip_on=False)

fig.text(641 / W, 1 - 18 / H, 'Flux', ha='center', va='center', fontsize=27)
fig.text(30 / W, 1 - 778 / H, 'Wavelength', rotation=-90, ha='center', va='center', fontsize=27)

fig.savefig('out.png', dpi=100)
